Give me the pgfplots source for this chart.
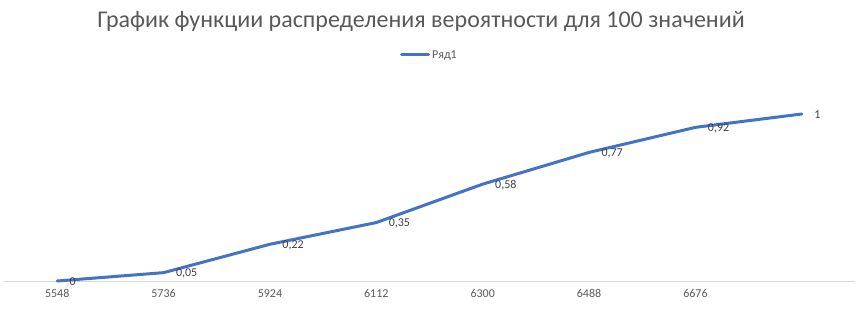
\documentclass[border=0pt]{standalone}
\usepackage{fontspec}
\setmainfont{Carlito}
\usepackage{pgfplots}
\pgfplotsset{compat=1.18}
\definecolor{serblue}{HTML}{4472C4}
\definecolor{txtgray}{HTML}{595959}
\definecolor{lblgray}{HTML}{404040}
\definecolor{axgray}{HTML}{D9D9D9}
\begin{document}
\begin{tikzpicture}[x=1pt,y=1pt]
\path (0,0) rectangle (859,309);
\node[anchor=base, text=txtgray, inner sep=0pt, font=\fontsize{24}{29}\selectfont] at (421,282) {График функции распределения вероятности для 100 значений};
\begin{axis}[
  at={(4pt,28pt)}, anchor=south west,
  scale only axis,
  width=851pt, height=200.4pt,
  xmin=-0.5, xmax=7.5, ymin=0, ymax=1.2,
  axis x line=bottom, axis y line=none,
  axis line style={draw=axgray, line width=0.8pt, -},
  xtick={0,...,7},
  xticklabels={5548,5736,5924,6112,6300,6488,6676,{}},
  major tick length=0pt,
  xticklabel style={font=\fontsize{12}{14}\selectfont, text=txtgray, yshift=-5pt},
  legend style={at={(0.5,1.128)}, anchor=center, draw=none, fill=none,
    font=\fontsize{12}{14}\selectfont, text=txtgray, legend columns=1,
    inner sep=0pt},
  legend image code/.code={\draw[#1, line width=3pt] (0pt,0pt) -- (27pt,0pt);},
  clip=false,
]
\addplot[serblue, line width=3pt, line join=round, line cap=round, no markers,
  nodes near coords, point meta=explicit symbolic,
  every node near coord/.style={anchor=west, inner sep=0pt, xshift=11pt, yshift=-1pt,
     font=\fontsize{12}{14}\selectfont, text=lblgray}]
table[meta=lab] {
x y lab
0 0 0
1 0.05 0,05
2 0.22 0,22
3 0.35 0,35
4 0.58 0,58
5 0.77 0,77
6 0.92 0,92
7 1 1
};
\addlegendentry{Ряд1}
\end{axis}
\end{tikzpicture}
\end{document}
